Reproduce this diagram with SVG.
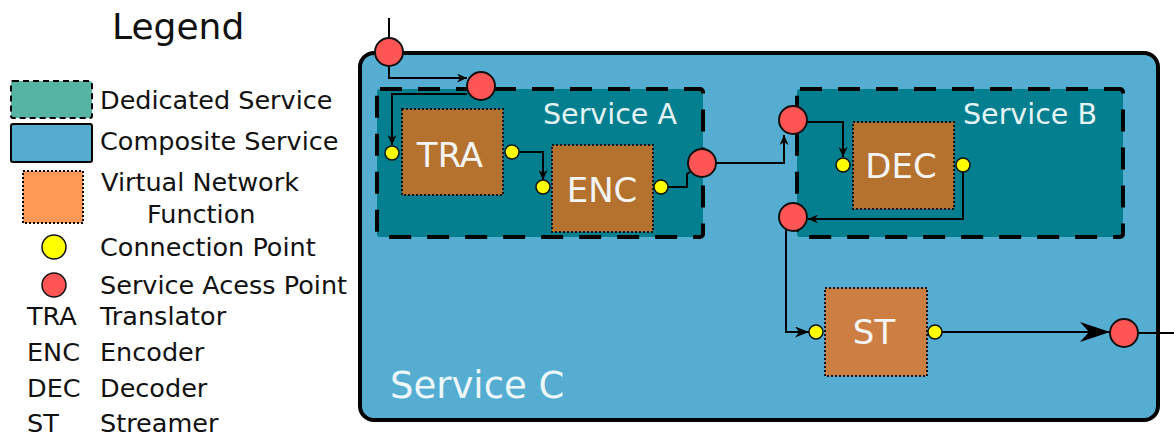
<svg xmlns="http://www.w3.org/2000/svg" width="1174" height="436" viewBox="0 0 1174 436">
<defs>
<style>
text{font-family:"DejaVu Sans","Verdana",sans-serif;}
.lg{font-size:25.5px;fill:#111;}
.svc{fill:#037f8f;stroke:#000;stroke-width:4;stroke-dasharray:22,16;}
.vnf{fill:#b5722f;stroke:#111;stroke-width:2;stroke-dasharray:2,2;}
.vl{font-size:34px;fill:#f4f4f4;text-anchor:middle;}
.sl{font-size:28.5px;fill:#e6f3f6;}
.cp{fill:#ffff00;stroke:#111;stroke-width:1.5;}
.sap{fill:#ff5555;stroke:#111;stroke-width:2;}
.ln{fill:none;stroke:#000;stroke-width:2;}
</style>
<marker id="ar" viewBox="0 0 10 10" refX="10" refY="5" markerWidth="10" markerHeight="9" markerUnits="userSpaceOnUse" orient="auto" preserveAspectRatio="none"><path d="M0,0 L10,5 L0,10 L3,5 z" fill="#000"/></marker>
<marker id="arb" viewBox="0 0 10 10" refX="10" refY="5" markerWidth="14" markerHeight="11" markerUnits="userSpaceOnUse" orient="auto" preserveAspectRatio="none"><path d="M0,0 L10,5 L0,10 L3,5 z" fill="#000"/></marker>
<marker id="arl" viewBox="0 0 10 10" refX="10" refY="5" markerWidth="30" markerHeight="20" markerUnits="userSpaceOnUse" orient="auto" preserveAspectRatio="none"><path d="M0,0 L10,5 L0,10 L3,5 z" fill="#000"/></marker>
</defs>

<g id="legend">
<text x="112" y="39" style="font-size:36px;fill:#111">Legend</text>
<rect x="11" y="81" width="81" height="37" rx="2" fill="#55b4a4" stroke="#000" stroke-width="2" stroke-dasharray="6,4"/>
<text class="lg" x="100" y="109">Dedicated Service</text>
<rect x="11" y="124" width="81" height="38" rx="2" fill="#55acd1" stroke="#000" stroke-width="2"/>
<text class="lg" x="100" y="150">Composite Service</text>
<rect x="23" y="171" width="60" height="52" fill="#ff9955" stroke="#000" stroke-width="2" stroke-dasharray="2,2"/>
<text class="lg" x="101" y="191">Virtual Network</text>
<text class="lg" x="147" y="223">Function</text>
<circle cx="54" cy="247" r="12" class="cp"/>
<text class="lg" x="100" y="256">Connection Point</text>
<circle cx="54" cy="285" r="12" class="sap" style="stroke-width:1.5"/>
<text class="lg" x="100" y="294">Service Acess Point</text>
<text class="lg" x="27" y="325">TRA</text><text class="lg" x="100" y="325">Translator</text>
<text class="lg" x="27" y="361">ENC</text><text class="lg" x="100" y="361">Encoder</text>
<text class="lg" x="27" y="397">DEC</text><text class="lg" x="100" y="397">Decoder</text>
<text class="lg" x="27" y="432">ST</text><text class="lg" x="100" y="432">Streamer</text>
</g>

<g id="service-c">
<rect x="360" y="53" width="798" height="367" rx="14" fill="#55aed2" stroke="#000" stroke-width="4"/>
<text x="390" y="398" style="font-size:37px;fill:#eef7fa">Service C</text>
</g>

<g id="service-a">
<rect class="svc" x="377" y="89" width="326" height="148" rx="3"/>
<text class="sl" x="543" y="124">Service A</text>
</g>

<g id="service-b">
<rect class="svc" x="797" y="89" width="326" height="148" rx="3"/>
<text class="sl" x="963" y="124">Service B</text>
</g>

<g id="connectors">
<path class="ln" d="M389,18 V38"/>
<path class="ln" d="M389,66 V78 H467" marker-end="url(#ar)"/>
<path class="ln" d="M467,94 H392 V145" marker-end="url(#ar)"/>
<path class="ln" d="M519,152 H543 V180" marker-end="url(#ar)"/>
<path class="ln" d="M668,187 H687 V174 L690,172"/>
<path class="ln" d="M716,163 H784 V135" marker-end="url(#ar)"/>
<path class="ln" d="M807,122 H843 V157" marker-end="url(#ar)"/>
<path class="ln" d="M963,172 V219 H808" marker-end="url(#ar)"/>
<path class="ln" d="M786,230 V332 H809" marker-end="url(#arb)"/>
<path class="ln" d="M942,332 H1110" marker-end="url(#arl)"/>
<path class="ln" d="M1138,333 H1174"/>
</g>

<g id="tra">
<rect class="vnf" x="402" y="109" width="101" height="86"/>
<text class="vl" x="450" y="167">TRA</text>
</g>
<g id="enc">
<rect class="vnf" x="552" y="145" width="101" height="87"/>
<text class="vl" x="602" y="202">ENC</text>
</g>
<g id="dec">
<rect class="vnf" x="853" y="122" width="101" height="87"/>
<text class="vl" x="901" y="178">DEC</text>
</g>
<g id="st">
<rect class="vnf" x="825" y="288" width="102" height="88" style="fill:#cd7f43"/>
<text class="vl" x="874" y="344">ST</text>
</g>

<g id="connection-points">
<circle class="cp" cx="392" cy="153" r="7"/>
<circle class="cp" cx="512" cy="152" r="7"/>
<circle class="cp" cx="543" cy="187" r="7"/>
<circle class="cp" cx="661" cy="187" r="7"/>
<circle class="cp" cx="843" cy="165" r="7"/>
<circle class="cp" cx="963" cy="165" r="7"/>
<circle class="cp" cx="816" cy="332" r="7"/>
<circle class="cp" cx="935" cy="332" r="7"/>
</g>

<g id="service-access-points">
<circle class="sap" cx="389" cy="52" r="14"/>
<circle class="sap" cx="481" cy="86" r="14"/>
<circle class="sap" cx="702" cy="163" r="14"/>
<circle class="sap" cx="793" cy="120" r="14"/>
<circle class="sap" cx="793" cy="217" r="14"/>
<circle class="sap" cx="1124" cy="333" r="14"/>
</g>
</svg>
